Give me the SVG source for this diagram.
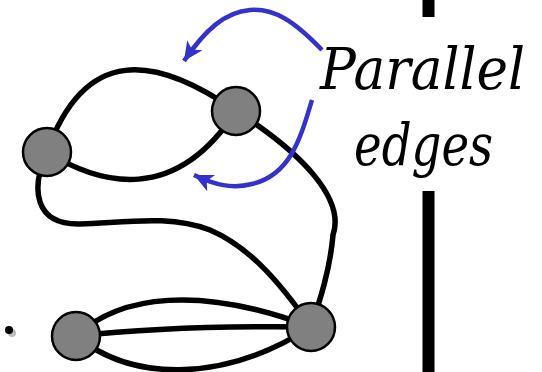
<svg xmlns="http://www.w3.org/2000/svg" width="542" height="372" viewBox="0 0 542 372">
<style>
.edge{fill:none;stroke:#000;stroke-width:5.5}
.arrow{fill:none;stroke:#3333CC;stroke-width:4.5}
.node{fill:#808080;stroke:#000;stroke-width:2.5}
.label{font-family:"DejaVu Serif","Liberation Serif",serif;font-style:italic;font-size:58px;fill:#000}
</style>
<defs>
<marker id="ah" markerUnits="userSpaceOnUse" markerWidth="22" markerHeight="20" refX="19" refY="9" orient="auto">
<path d="M0,0 L19,9 L0,18 L5,9 z" fill="#3333CC"/>
</marker>
</defs>
<rect x="0" y="0" width="542" height="372" fill="#fff"/>
<g id="divider">
<rect x="422.5" y="0" width="12" height="17" fill="#000"/>
<rect x="422.5" y="191" width="12" height="181" fill="#000"/>
</g>
<g id="connectors">
<path class="edge" d="M47,152 C85,45 155,55 236,111"/>
<path class="edge" d="M47,152 C100,185 175,205 236,111"/>
<path class="edge" d="M47,152 C30,190 35,225 80,224 C130,222 170,215 210,230 C245,245 275,275 311,327"/>
<path class="edge" d="M236,111 C305,155 345,200 333,235 C330,270 320,300 311,327"/>
<path class="edge" d="M76,336 C120,295 200,285 311,327"/>
<path class="edge" d="M76,336 C150,328 230,326 311,327"/>
<path class="edge" d="M76,336 C130,380 220,385 311,327"/>
<path class="arrow" d="M322,50 C295,22 275,8 250,10 C225,12 205,30 184,61" marker-end="url(#ah)"/>
<path class="arrow" d="M312,100 C300,140 290,175 252,184 C232,189 215,185 194,175" marker-end="url(#ah)"/>
</g>
<g id="nodeA"><circle class="node" cx="47" cy="152" r="24"/></g>
<g id="nodeB"><circle class="node" cx="236" cy="111" r="24"/></g>
<g id="nodeC"><circle class="node" cx="76" cy="336" r="24"/></g>
<g id="nodeD"><circle class="node" cx="311" cy="327" r="24"/></g>
<g id="bullet">
<circle cx="12" cy="333" r="4" fill="#bbb"/>
<circle cx="9" cy="330" r="4" fill="#000"/>
</g>
<g id="label">
<text class="label" x="320" y="89" textLength="205" lengthAdjust="spacingAndGlyphs">Parallel</text>
<text class="label" x="354" y="165" textLength="139" lengthAdjust="spacingAndGlyphs">edges</text>
</g>
</svg>
